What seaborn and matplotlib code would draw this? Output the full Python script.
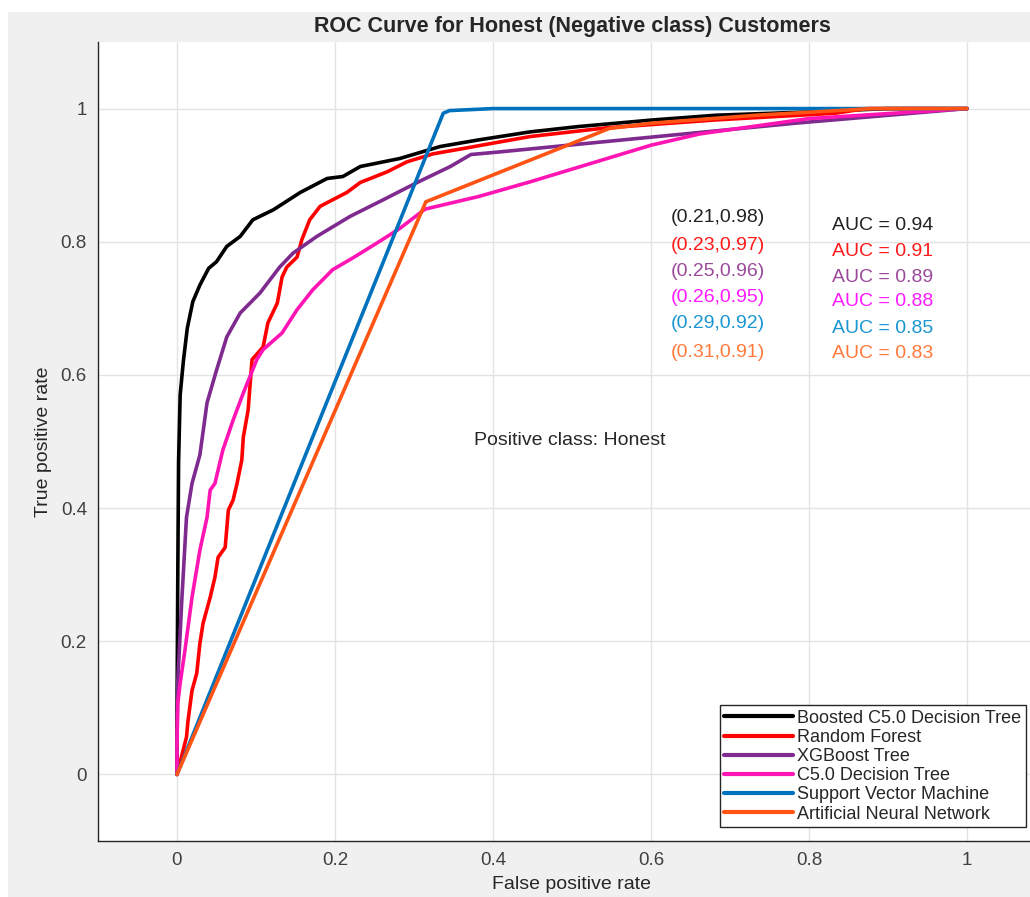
import matplotlib.pyplot as plt
import seaborn as sns
import pandas as pd
from matplotlib.patches import Rectangle

# models, in legend order
models = ['Boosted C5.0 Decision Tree', 'Random Forest', 'XGBoost Tree',
          'C5.0 Decision Tree', 'Support Vector Machine', 'Artificial Neural Network']

# ROC points
boosted_fpr = [0, 0, 0.001, 0.002, 0.004, 0.008, 0.013, 0.02, 0.029, 0.04, 0.05, 0.063, 0.08,
               0.096, 0.122, 0.156, 0.19, 0.21, 0.232, 0.282, 0.333, 0.382, 0.447, 0.508,
               0.603, 0.682, 0.8, 0.9, 1]
boosted_tpr = [0, 0.09, 0.3, 0.47, 0.57, 0.62, 0.67, 0.71, 0.735, 0.76, 0.77, 0.793, 0.808,
               0.833, 0.848, 0.874, 0.895, 0.898, 0.913, 0.925, 0.943, 0.953, 0.965, 0.973,
               0.983, 0.99, 0.995, 1.0, 1]

rf_fpr = [0, 0.012, 0.014, 0.019, 0.025, 0.029, 0.033, 0.042, 0.048, 0.052, 0.061, 0.065,
          0.071, 0.076, 0.082, 0.084, 0.09, 0.095, 0.109, 0.115, 0.127, 0.133, 0.139, 0.152,
          0.158, 0.168, 0.181, 0.197, 0.215, 0.232, 0.266, 0.291, 0.324, 0.367, 0.409, 0.447,
          0.543, 0.682, 0.833, 0.872, 1]
rf_tpr = [0, 0.056, 0.081, 0.126, 0.152, 0.197, 0.227, 0.266, 0.296, 0.326, 0.341, 0.397,
          0.412, 0.437, 0.472, 0.507, 0.547, 0.623, 0.642, 0.678, 0.708, 0.747, 0.762, 0.777,
          0.803, 0.833, 0.853, 0.863, 0.874, 0.889, 0.905, 0.92, 0.932, 0.941, 0.95, 0.958,
          0.971, 0.983, 0.993, 1.0, 1]

xgb_fpr = [0, 0, 0.001, 0.006, 0.012, 0.019, 0.029, 0.038, 0.05, 0.063, 0.08, 0.105, 0.13,
           0.147, 0.177, 0.219, 0.261, 0.304, 0.346, 0.372, 0.409, 0.582, 0.782, 1]
xgb_tpr = [0, 0.05, 0.14, 0.26, 0.386, 0.437, 0.48, 0.558, 0.607, 0.657, 0.693, 0.723, 0.762,
           0.783, 0.808, 0.838, 0.863, 0.889, 0.913, 0.931, 0.935, 0.955, 0.978, 1]

c50_fpr = [0, 0, 0.001, 0.004, 0.01, 0.019, 0.029, 0.038, 0.042, 0.048, 0.058, 0.071, 0.084,
           0.101, 0.109, 0.133, 0.152, 0.172, 0.197, 0.223, 0.253, 0.282, 0.314, 0.382,
           0.447, 0.6, 0.662, 0.8, 1]
c50_tpr = [0, 0.05, 0.107, 0.137, 0.186, 0.266, 0.337, 0.386, 0.427, 0.437, 0.487, 0.532,
           0.573, 0.623, 0.638, 0.663, 0.698, 0.728, 0.758, 0.776, 0.798, 0.82, 0.849, 0.868,
           0.89, 0.945, 0.962, 0.985, 1]

svm_fpr = [0, 0.16, 0.337, 0.345, 0.4, 1]
svm_tpr = [0, 0.472, 0.993, 0.997, 1.0, 1]

ann_fpr = [0, 0.315, 0.547, 0.6, 0.733, 0.88, 1]
ann_tpr = [0, 0.86, 0.97, 0.978, 0.99, 1.0, 1]

# operating points and AUC values
op_points = ['(0.21,0.98)', '(0.23,0.97)', '(0.25,0.96)', '(0.26,0.95)', '(0.29,0.92)', '(0.31,0.91)']
auc = [0.94, 0.91, 0.89, 0.88, 0.85, 0.83]

fpr_list = [boosted_fpr, rf_fpr, xgb_fpr, c50_fpr, svm_fpr, ann_fpr]
tpr_list = [boosted_tpr, rf_tpr, xgb_tpr, c50_tpr, svm_tpr, ann_tpr]

frames = []
for name, f, t in zip(models, fpr_list, tpr_list):
    frames.append(pd.DataFrame({'fpr': f, 'tpr': t, 'model': name}))
df = pd.concat(frames, ignore_index=True)

line_colors = ['#000000', '#ff0000', '#7e2a8e', '#ff14b4', '#0072bd', '#ff5414']
text_colors = ['#222222', '#ff1a1a', '#9b4a9b', '#ff1aff', '#1a96d2', '#ff7a3c']

sns.set_style('white')
plt.rcParams['font.family'] = ['Liberation Sans', 'DejaVu Sans']

fig = plt.figure(figsize=(10.3, 8.97), dpi=100)
fig.patch.set_facecolor('white')
fig.patches.append(Rectangle((8 / 1030, 0), 1, 1 - 12 / 897, transform=fig.transFigure,
                             facecolor='#f0f0f0', edgecolor='none', zorder=-10))
ax = fig.add_axes([98 / 1030, 56 / 897, 948 / 1030, 799 / 897])
ax.set_facecolor('white')

sns.lineplot(data=df, x='fpr', y='tpr', hue='model', hue_order=models,
             palette=line_colors, sort=False, estimator=None, linewidth=2.6, ax=ax)

ax.set_xlim(-0.1, 1.1)
ax.set_ylim(-0.1, 1.1)
ax.set_xticks([0, 0.2, 0.4, 0.6, 0.8, 1])
ax.set_yticks([0, 0.2, 0.4, 0.6, 0.8, 1])
ax.set_xticklabels(['0', '0.2', '0.4', '0.6', '0.8', '1'])
ax.set_yticklabels(['0', '0.2', '0.4', '0.6', '0.8', '1'])
ax.grid(True, color='#e3e3e3', linewidth=1)
ax.set_axisbelow(True)
for s in ['top', 'right']:
    ax.spines[s].set_visible(False)
for s in ['left', 'bottom']:
    ax.spines[s].set_color('#262626')
    ax.spines[s].set_linewidth(1)
ax.tick_params(direction='in', length=5, width=1, color='#262626',
               labelcolor='#404040', labelsize=13.5, pad=8)

ax.set_title('ROC Curve for Honest (Negative class) Customers', fontsize=15.5,
             fontweight='bold', pad=7)
ax.set_xlabel('False positive rate', fontsize=14, color='#262626', labelpad=5)
ax.set_ylabel('True positive rate', fontsize=14, color='#262626', labelpad=6)

# annotations
pt_y = [0.836, 0.794, 0.755, 0.716, 0.677, 0.633]
auc_y = [0.824, 0.785, 0.747, 0.710, 0.669, 0.632]
for i in range(len(models)):
    ax.text(0.685, pt_y[i], op_points[i], color=text_colors[i], fontsize=14,
            ha='center', va='center')
    ax.text(0.829, auc_y[i], 'AUC = %.2f' % auc[i], color=text_colors[i], fontsize=14,
            ha='left', va='center')
ax.text(0.497, 0.502, 'Positive class: Honest', color='#262626', fontsize=14,
        ha='center', va='center')

leg = ax.legend(loc='lower right', bbox_to_anchor=(0.979, 0.0175), borderaxespad=0,
                fontsize=13, frameon=True, fancybox=False, framealpha=1,
                edgecolor='#262626', labelspacing=0.12, borderpad=0.25,
                handlelength=3.8, handletextpad=0.25)
leg.get_frame().set_linewidth(1)
for line in leg.get_lines():
    line.set_linewidth(3)

fig.savefig('out.png', dpi=100, facecolor=fig.get_facecolor())
